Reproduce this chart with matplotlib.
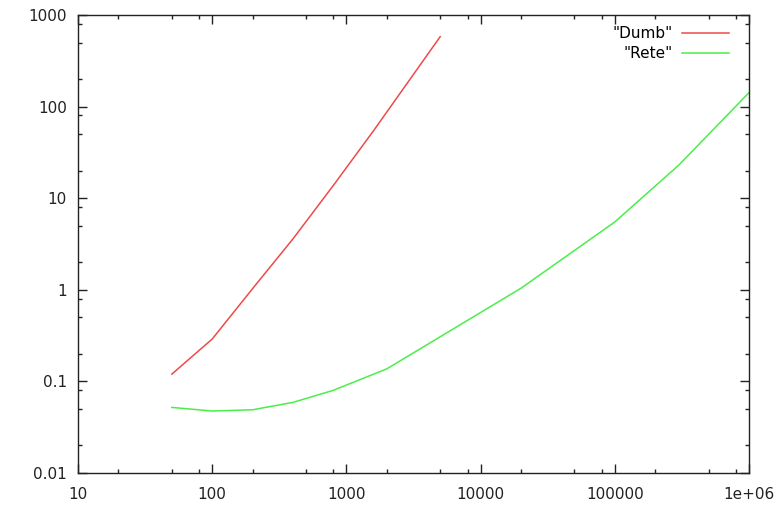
import matplotlib
matplotlib.use("Agg")
import matplotlib.pyplot as plt
from matplotlib.ticker import FixedLocator, FixedFormatter, NullFormatter

dumb_x = [50, 100, 200, 400, 800, 1600, 5000]
dumb_y = [0.12, 0.29, 1.03, 3.6, 13.8, 55, 580]

rete_x = [50, 100, 200, 400, 800, 2000, 20000, 100000, 300000, 1000000]
rete_y = [0.052, 0.0475, 0.049, 0.059, 0.08, 0.137, 1.04, 5.5, 23, 142]

x_ticks = [10, 100, 1000, 10000, 100000, 1000000]
x_labels = ["10", "100", "1000", "10000", "100000", "1e+06"]
y_ticks = [0.01, 0.1, 1, 10, 100, 1000]
y_labels = ["0.01", "0.1", "1", "10", "100", "1000"]

plt.rcParams['font.family'] = ['DejaVu Sans']

fig = plt.figure(figsize=(7.8, 5.12), dpi=100)
ax = fig.add_axes([78/780, 1-473/512, (749-78)/780, (473-15)/512])

ax.plot(dumb_x, dumb_y, color='#ee4a4a', lw=1.1, label='"Dumb"')
ax.plot(rete_x, rete_y, color='#4aee4a', lw=1.1, label='"Rete"')

ax.set_xscale('log')
ax.set_yscale('log')
ax.set_xlim(10, 1e6)
ax.set_ylim(0.01, 1000)

ax.xaxis.set_major_locator(FixedLocator(x_ticks))
ax.xaxis.set_major_formatter(FixedFormatter(x_labels))
ax.yaxis.set_major_locator(FixedLocator(y_ticks))
ax.yaxis.set_major_formatter(FixedFormatter(y_labels))

xminor = [d * m for d in [10, 100, 1000, 10000, 100000] for m in (2, 5, 8)]
yminor = [d * m for d in [0.01, 0.1, 1, 10, 100] for m in (2, 5, 8)]
ax.xaxis.set_minor_locator(FixedLocator(xminor))
ax.yaxis.set_minor_locator(FixedLocator(yminor))
ax.xaxis.set_minor_formatter(NullFormatter())
ax.yaxis.set_minor_formatter(NullFormatter())

ax.tick_params(which='both', direction='in', top=True, right=True, colors='#222222')
ax.tick_params(which='major', length=6.3, width=1.0, labelsize=11)
ax.tick_params(which='minor', length=3.1, width=1.0)
ax.tick_params(axis='x', which='major', pad=10)
ax.tick_params(axis='y', which='major', pad=8)
for s in ax.spines.values():
    s.set_color('#222222')
    s.set_linewidth(1.0)

ax.legend(loc='upper right', frameon=False, markerfirst=False, fontsize=11,
          handlelength=3.1, handletextpad=0.6, labelspacing=0.32,
          borderaxespad=0.35, bbox_to_anchor=(0.988, 1.0))

fig.savefig('out.png', dpi=100)
